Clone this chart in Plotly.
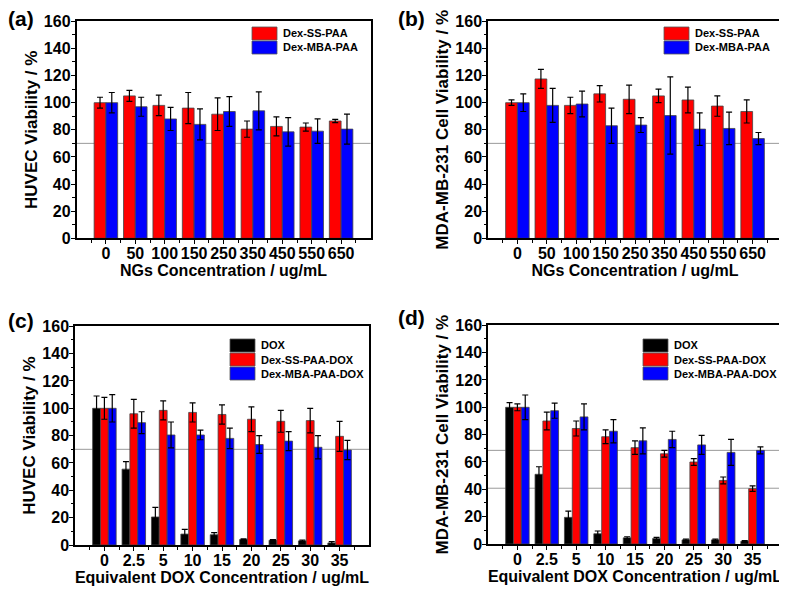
import plotly.graph_objects as go

# ---- data ----
ngs_conc = ["0", "50", "100", "150", "250", "350", "450", "550", "650"]
dox_conc = ["0", "2.5", "5", "10", "15", "20", "25", "30", "35"]

# (a) HUVEC, blank nanogels
huvec_ss = [100, 105, 98, 96, 91.5, 80.5, 82.5, 82, 86.5]
huvec_ss_err = [4, 4, 7.5, 11.5, 12, 6, 7, 3, 1.2]
huvec_mba = [100, 97, 88, 84, 93.5, 94, 78.5, 79, 80.5]
huvec_mba_err = [7.5, 7, 8.5, 11.5, 11, 14, 10.5, 9, 11]

# (b) MDA-MB-231, blank nanogels
mda_ss = [100, 117.5, 98, 106.5, 102.5, 105, 102, 97.5, 93.5]
mda_ss_err = [2, 7, 6, 6, 10.5, 5, 9.5, 7.5, 8.5]
mda_mba = [100, 98, 99, 83, 83.5, 90.5, 80.5, 81, 73.5]
mda_mba_err = [6.5, 12.5, 9.5, 13, 5.5, 28.5, 12, 12, 4.5]

# (c) HUVEC, DOX loaded
huvec_dox = [100, 55.5, 20.5, 8, 7.5, 4, 3.5, 3, 1.5]
huvec_dox_err = [9, 5.5, 7, 3.5, 1.5, 0.5, 0.5, 0.5, 1]
huvec_ss_dox = [100, 96, 98.5, 97, 95.5, 92, 90.5, 91, 79.5]
huvec_ss_dox_err = [8, 10.5, 7, 7, 7, 9, 8, 9, 11]
huvec_mba_dox = [100, 89.5, 80.5, 80.5, 78, 73.5, 76, 71.5, 69.5]
huvec_mba_dox_err = [10, 8, 9.5, 3.5, 7.5, 6.5, 7, 8.5, 7]

# (d) MDA-MB-231, DOX loaded
mda_dox = [100, 51, 19.5, 7.5, 4.5, 4, 3, 3, 2]
mda_dox_err = [3.5, 5.5, 4.5, 2, 0.8, 0.8, 0.5, 0.5, 0.5]
mda_ss_dox = [100, 90, 84.5, 78.5, 70.5, 66, 60, 46.5, 40.5]
mda_ss_dox_err = [2.5, 6.5, 5.5, 5, 5, 2.5, 2.5, 2.5, 2]
mda_mba_dox = [100, 97.5, 93, 82.5, 75.5, 76.5, 72.5, 67, 68.5]
mda_mba_dox_err = [9, 5.5, 9.5, 8.5, 9.5, 6, 7, 9.5, 2.5]

ref_lines = {"a": [70], "b": [70], "c": [70], "d": [68.5, 40.8]}

# the page body has an 8px margin, so the figure is made smaller and
# all pixel positions below are given in window coordinates
PAD = 8
W, H = 787 - PAD, 593 - PAD
FONT = "Liberation Sans, Arial, sans-serif"
RED, BLUE, BLACK = "#ff0000", "#0000ff", "#000000"


def fx(px):
    return (px - PAD) / W


def fy(py):
    return 1 - (py - PAD) / H


fig = go.Figure()

panels = [
    # key, axis suffix, x-domain px, y-domain px, ytitle, xtitle, categories, series
    ("a", "", (76.5, 370.5), (21.3, 238.3), "HUVEC Viability / %", "NGs Concentration / ug/mL", ngs_conc,
     [("Dex-SS-PAA", huvec_ss, huvec_ss_err, RED), ("Dex-MBA-PAA", huvec_mba, huvec_mba_err, BLUE)]),
    ("b", "2", (488, 782), (21.3, 238.3), "MDA-MB-231 Cell Viability / %", "NGs Concentration / ug/mL", ngs_conc,
     [("Dex-SS-PAA", mda_ss, mda_ss_err, RED), ("Dex-MBA-PAA", mda_mba, mda_mba_err, BLUE)]),
    ("c", "3", (75, 369), (326.3, 545), "HUVEC Viability / %", "Equivalent DOX Concentration / ug/mL", dox_conc,
     [("DOX", huvec_dox, huvec_dox_err, BLACK), ("Dex-SS-PAA-DOX", huvec_ss_dox, huvec_ss_dox_err, RED),
      ("Dex-MBA-PAA-DOX", huvec_mba_dox, huvec_mba_dox_err, BLUE)]),
    ("d", "4", (488, 782), (325.3, 544), "MDA-MB-231 Cell Viability / %", "Equivalent DOX Concentration / ug/mL", dox_conc,
     [("DOX", mda_dox, mda_dox_err, BLACK), ("Dex-SS-PAA-DOX", mda_ss_dox, mda_ss_dox_err, RED),
      ("Dex-MBA-PAA-DOX", mda_mba_dox, mda_mba_dox_err, BLUE)]),
]

# legend placement (px): swatch left, first row top
legend_pos = {"a": (252, 27), "b": (664, 27), "c": (230, 339), "d": (643, 339)}
label_pos = {"a": (21, 18), "b": (412, 18), "c": (21, 320), "d": (412, 317)}

axes = {}
for key, sfx, (x0, x1), (y0, y1), ytitle, xtitle, cats, series in panels:
    xpos = list(range(len(cats)))
    for name, vals, errs, col in series:
        fig.add_trace(go.Bar(
            x=xpos, y=vals, name=name, showlegend=False,
            marker=dict(color=col, line=dict(color="#444444", width=0.8)),
            error_y=dict(type="data", array=errs, visible=True, color="black", thickness=1.2, width=3),
            xaxis="x" + sfx, yaxis="y" + sfx,
        ))

    axes["xaxis" + sfx] = dict(
        domain=[fx(x0), fx(x1)], anchor="y" + sfx, range=[-1, len(cats)], automargin=False,
        tickmode="array", tickvals=xpos, ticktext=cats,
        ticks="outside", ticklen=4, tickwidth=1.2, tickcolor="black", ticklabelstandoff=-4,
        minor=dict(tickmode="array", tickvals=[v + 0.5 for v in range(-1, len(cats))],
                   ticks="outside", ticklen=3, tickwidth=1, tickcolor="black"),
        showline=True, mirror=True, linecolor="black", linewidth=1.5,
        showgrid=False, zeroline=False,
        tickfont=dict(size=16, color="black", family=FONT, weight="bold"),
        title=dict(text=xtitle, standoff=2, font=dict(size=16, color="black", family=FONT, weight="bold")),
    )
    axes["yaxis" + sfx] = dict(
        domain=[fy(y1), fy(y0)], anchor="x" + sfx, range=[0, 160], automargin=False,
        tickmode="linear", tick0=0, dtick=20,
        ticks="outside", ticklen=4, tickwidth=1.2, tickcolor="black", ticklabelstandoff=-3,
        minor=dict(dtick=10, ticks="outside", ticklen=2.5, tickwidth=1, tickcolor="black"),
        showline=True, mirror=True, linecolor="black", linewidth=1.5,
        showgrid=False, zeroline=False,
        tickfont=dict(size=16, color="black", family=FONT, weight="bold"),
        title=dict(text=ytitle, standoff=2, font=dict(size=17, color="black", family=FONT, weight="bold")),
    )

    for yv in ref_lines[key]:
        fig.add_shape(type="line", xref="x" + sfx + " domain", yref="y" + sfx,
                      x0=0, x1=1, y0=yv, y1=yv, layer="below",
                      line=dict(color="#9a9a9a", width=1))

    # legend drawn as swatches + labels
    lx, ly = legend_pos[key]
    for i, (name, vals, errs, col) in enumerate(series):
        top = ly + i * 14
        fig.add_shape(type="rect", xref="paper", yref="paper",
                      x0=fx(lx), x1=fx(lx + 25), y0=fy(top + 13), y1=fy(top),
                      fillcolor=col, line=dict(color="#555555", width=0.8))
        fig.add_annotation(text=name, xref="paper", yref="paper", x=fx(lx + 29), y=fy(top + 6.5),
                           xanchor="left", yanchor="middle", showarrow=False,
                           font=dict(size=11, color="black", family=FONT, weight="bold"))

    px_, py_ = label_pos[key]
    fig.add_annotation(text="(" + key + ")", xref="paper", yref="paper", x=fx(px_), y=fy(py_),
                       xanchor="center", yanchor="middle", showarrow=False,
                       font=dict(size=21, color="black", family=FONT, weight="bold"))

fig.update_layout(
    width=W, height=H,
    margin=dict(l=0, r=0, t=0, b=0),
    paper_bgcolor="white", plot_bgcolor="white",
    barmode="group", bargap=0.2, bargroupgap=0,
    font=dict(family=FONT, color="black"),
    showlegend=False,
    **axes,
)

fig.write_html("out.html")
